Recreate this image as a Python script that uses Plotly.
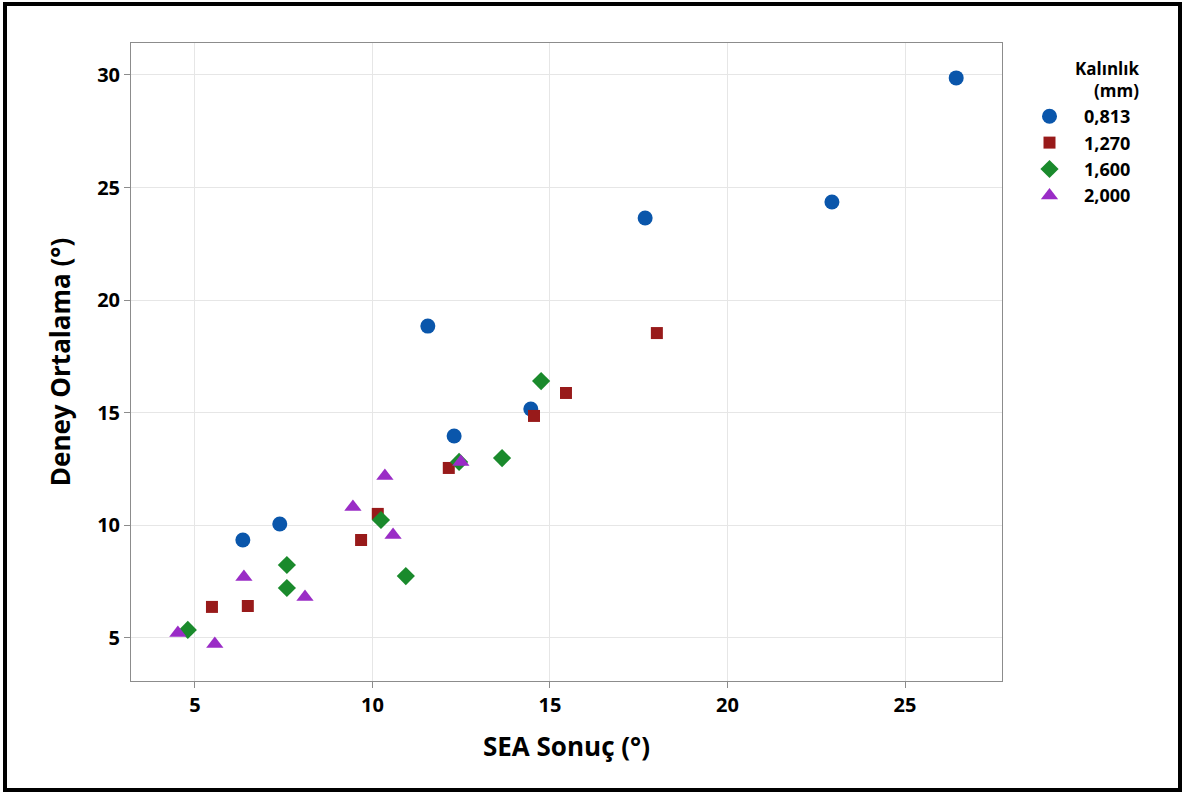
import plotly.graph_objects as go

# Data
sea_0813 = [26.44, 22.94, 17.68, 11.56, 14.46, 12.30, 7.39, 6.35]
den_0813 = [29.87, 24.36, 23.65, 18.85, 15.17, 13.97, 10.06, 9.35]

sea_1270 = [18.01, 15.45, 14.55, 12.15, 10.15, 9.68, 6.49, 5.48]
den_1270 = [18.54, 15.88, 14.86, 12.55, 10.51, 9.35, 6.42, 6.38]

sea_1600 = [14.75, 13.65, 12.44, 10.24, 10.94, 7.59, 7.59, 4.80]
den_1600 = [16.41, 12.99, 12.82, 10.24, 7.75, 8.24, 7.22, 5.36]

sea_2000 = [12.49, 10.35, 9.45, 10.58, 6.38, 8.10, 4.52, 5.56]
den_2000 = [12.82, 12.19, 10.82, 9.57, 7.71, 6.82, 5.22, 4.73]

series = [
    ("0,813", sea_0813, den_0813, "circle", "#0a56ab", 15),
    ("1,270", sea_1270, den_1270, "square", "#981a1a", 12),
    ("1,600", sea_1600, den_1600, "diamond", "#1a8a2c", 14),
    ("2,000", sea_2000, den_2000, "triangle-up", "#9a2cc6", 15),
]

x_ticks = [5, 10, 15, 20, 25]
y_ticks = [5, 10, 15, 20, 25, 30]

FONT = "Open Sans"

fig = go.Figure()
for name, xs, ys, sym, col, sz in series:
    fig.add_trace(go.Scatter(
        x=xs, y=ys, mode="markers", name=name,
        marker=dict(symbol=sym, color=col, size=sz, line=dict(width=0)),
    ))

W, H = 1183, 794
L, R, T, B = 131, 181, 43, 113
pw, ph = W - L - R, H - T - B

def px_to_paper_x(px):
    return (px - L) / pw

def px_to_paper_y(py):
    return (H - B - py) / ph

fig.update_layout(
    width=W, height=H,
    margin=dict(l=L, r=R, t=T, b=B),
    paper_bgcolor="white", plot_bgcolor="white",
    font=dict(family=FONT, color="black"),
    xaxis=dict(
        range=[3.2, 27.73], tickvals=x_ticks, ticktext=[str(v) for v in x_ticks],
        showgrid=True, gridcolor="#e6e6e6", gridwidth=1,
        showline=True, linecolor="#8c8c8c", linewidth=1, mirror=True,
        ticks="outside", ticklen=6, tickcolor="#8c8c8c",
        tickfont=dict(size=20, family=FONT, weight="bold"),
        title=dict(text="<b>SEA Sonuç (°)</b>", font=dict(size=26, family=FONT), standoff=20),
        zeroline=False,
    ),
    yaxis=dict(
        range=[3.09, 31.42], tickvals=y_ticks, ticktext=[str(v) for v in y_ticks],
        showgrid=True, gridcolor="#e6e6e6", gridwidth=1,
        showline=True, linecolor="#8c8c8c", linewidth=1, mirror=True,
        ticks="outside", ticklen=6, tickcolor="#8c8c8c",
        tickfont=dict(size=20, family=FONT, weight="bold"),
        title=dict(text="<b>Deney Ortalama (°)</b>", font=dict(size=26, family=FONT), standoff=19),
        zeroline=False,
    ),
    legend=dict(
        x=px_to_paper_x(1015), y=px_to_paper_y(98), xanchor="left", yanchor="top",
        font=dict(size=18, family=FONT, weight="bold"),
        bgcolor="rgba(0,0,0,0)", tracegroupgap=0, itemwidth=59,
    ),
    annotations=[
        dict(text="<b>Kalınlık</b><br><b>(mm)</b>", xref="paper", yref="paper",
             x=px_to_paper_x(1141), y=px_to_paper_y(55), xanchor="right", yanchor="top",
             align="right", showarrow=False, font=dict(size=17, family=FONT, color="black")),
    ],
    shapes=[dict(
        type="rect", xref="paper", yref="paper",
        x0=px_to_paper_x(5), x1=px_to_paper_x(1180),
        y0=px_to_paper_y(790), y1=px_to_paper_y(4),
        line=dict(color="black", width=4), fillcolor="rgba(0,0,0,0)", layer="below",
    )],
)

fig.write_html("out.html", post_script="document.body.style.margin='0';",
               config={"displayModeBar": False})
